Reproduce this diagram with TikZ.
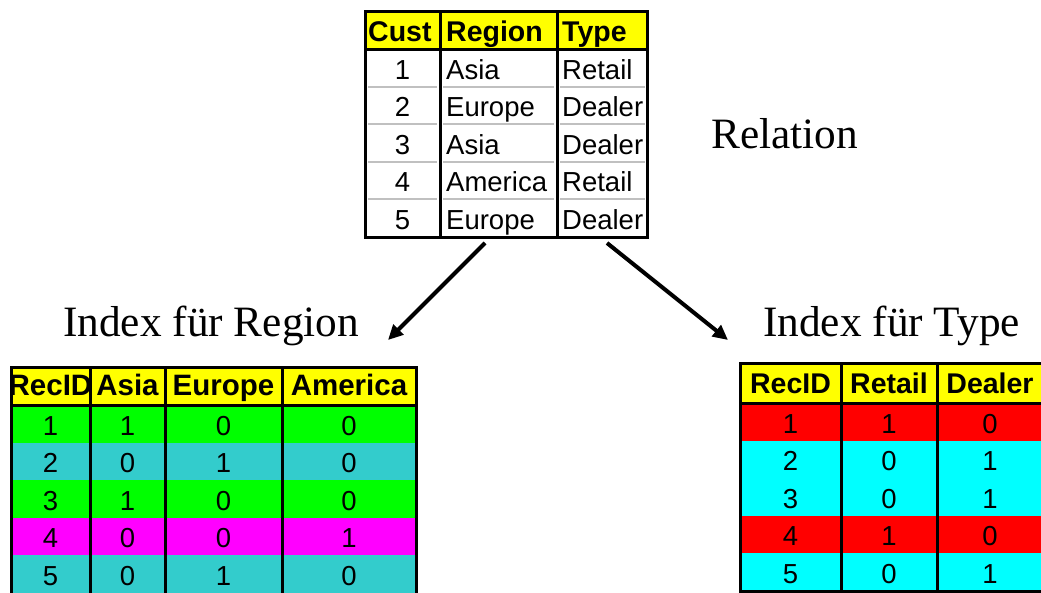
\documentclass[tikz,border=0pt]{standalone}
\usepackage{fontspec}
\setmainfont{Liberation Serif}
\newfontfamily\arialf{Liberation Sans}
\usetikzlibrary{arrows.meta}
\definecolor{hdr}{RGB}{255,255,0}
\definecolor{grn}{RGB}{0,255,0}
\definecolor{tealc}{RGB}{51,204,204}
\definecolor{magc}{RGB}{255,0,255}
\definecolor{redc}{RGB}{255,0,0}
\definecolor{cyanc}{RGB}{0,255,255}
\definecolor{sepc}{RGB}{192,192,192}
\tikzset{
  hd/.style={font=\arialf\bfseries\fontsize{28.5}{30}\selectfont, inner sep=0pt, anchor=base},
  hdw/.style={font=\arialf\bfseries\fontsize{29.5}{30}\selectfont, inner sep=0pt, anchor=base},
  bd/.style={font=\arialf\fontsize{27.5}{30}\selectfont, inner sep=0pt, anchor=base},
  lbl/.style={font=\fontsize{43.3}{46}\selectfont, inner sep=0pt, anchor=base west},
  gridline/.style={line width=3pt, black},
  sepline/.style={line width=2pt, sepc},
  arr/.style={line width=4pt, -{Triangle[length=15pt,width=14pt]}}
}
\begin{document}
\begin{tikzpicture}[x=1pt,y=-1pt]
\useasboundingbox[fill=white] (0,0) rectangle (1041,592);

% ---------- Relation table ----------
\fill[hdr] (365,11) rectangle (647,49);
\foreach \k in {1,...,4}{
  \pgfmathsetmacro\yy{49+\k*37.6}
  \draw[sepline] (368,\yy) -- (437,\yy);
  \draw[sepline] (443,\yy) -- (554,\yy);
  \draw[sepline] (560,\yy) -- (645,\yy);
}
\draw[gridline] (365,11) rectangle (647,237);
\draw[gridline] (440,11) -- (440,237);
\draw[gridline] (557,11) -- (557,237);
\draw[gridline] (365,49) -- (647,49);
\node[hd, anchor=base west] (R-h1) at (368,41) {Cust};
\node[hd, anchor=base west] (R-h2) at (446,41) {Region};
\node[hd, anchor=base west] (R-h3) at (562,41) {Type};
\foreach \c/\reg/\typ [count=\i] in {1/Asia/Retail, 2/Europe/Dealer, 3/Asia/Dealer, 4/America/Retail, 5/Europe/Dealer}{
  \pgfmathsetmacro\yb{79+(\i-1)*37.6}
  \node[bd] (R-\i-1) at (402.5,\yb) {\c};
  \node[bd, anchor=base west] (R-\i-2) at (446,\yb) {\reg};
  \node[bd, anchor=base west] (R-\i-3) at (562,\yb) {\typ};
}
\node[lbl] (relation) at (711,148) {Relation};

% ---------- arrows ----------
\coordinate (aLs) at (485,243);
\coordinate (aLe) at (388,340);
\coordinate (aRs) at (607,243);
\coordinate (aRe) at (728,340);
\draw[arr] (aLs) -- (aLe);
\draw[arr] (aRs) -- (aRe);

\node[lbl] (idxregion) at (63,336) {Index für Region};
\node[lbl] (idxtype) at (763,336) {Index für Type};

% ---------- Index für Region ----------
\fill[hdr] (11,367) rectangle (416,405);
\foreach \id/\a/\e/\am/\col [count=\i] in {1/1/0/0/grn, 2/0/1/0/tealc, 3/1/0/0/grn, 4/0/0/1/magc, 5/0/1/0/tealc}{
  \pgfmathsetmacro\yt{405+(\i-1)*37.6}
  \pgfmathsetmacro\yd{\yt+37.6}
  \pgfmathsetmacro\yb{\yt+30}
  \fill[\col] (11,\yt) rectangle (416,\yd);
  \node[bd] (L-\i-1) at (50.5,\yb) {\id};
  \node[bd] (L-\i-2) at (127.5,\yb) {\a};
  \node[bd] (L-\i-3) at (223.5,\yb) {\e};
  \node[bd] (L-\i-4) at (349,\yb) {\am};
}
\draw[gridline] (11,367) rectangle (416,595);
\foreach \xx in {90,165,282}{ \draw[gridline] (\xx,367) -- (\xx,595); }
\draw[gridline] (11,405) -- (416,405);
\node[hdw] (L-h1) at (50.5,395) {RecID};
\node[hdw] (L-h2) at (127.5,395) {Asia};
\node[hdw] (L-h3) at (223.5,395) {Europe};
\node[hdw] (L-h4) at (349,395) {America};

% ---------- Index für Type ----------
\fill[hdr] (740,363) rectangle (1045,403);
\foreach \id/\r/\d/\col [count=\i] in {1/1/0/redc, 2/0/1/cyanc, 3/0/1/cyanc, 4/1/0/redc, 5/0/1/cyanc}{
  \pgfmathsetmacro\yt{403+(\i-1)*37.6}
  \pgfmathsetmacro\yd{\yt+37.6}
  \pgfmathsetmacro\yb{\yt+30}
  \fill[\col] (740,\yt) rectangle (1045,\yd);
  \node[bd] (T-\i-1) at (790.5,\yb) {\id};
  \node[bd] (T-\i-2) at (889,\yb) {\r};
  \node[bd] (T-\i-3) at (990,\yb) {\d};
}
\draw[gridline] (740,363) rectangle (1045,591);
\foreach \xx in {841,937}{ \draw[gridline] (\xx,363) -- (\xx,591); }
\draw[gridline] (740,403) -- (1045,403);
\node[hd] (T-h1) at (790.5,393) {RecID};
\node[hd] (T-h2) at (889,393) {Retail};
\node[hd] (T-h3) at (990,393) {Dealer};
\end{tikzpicture}
\end{document}
